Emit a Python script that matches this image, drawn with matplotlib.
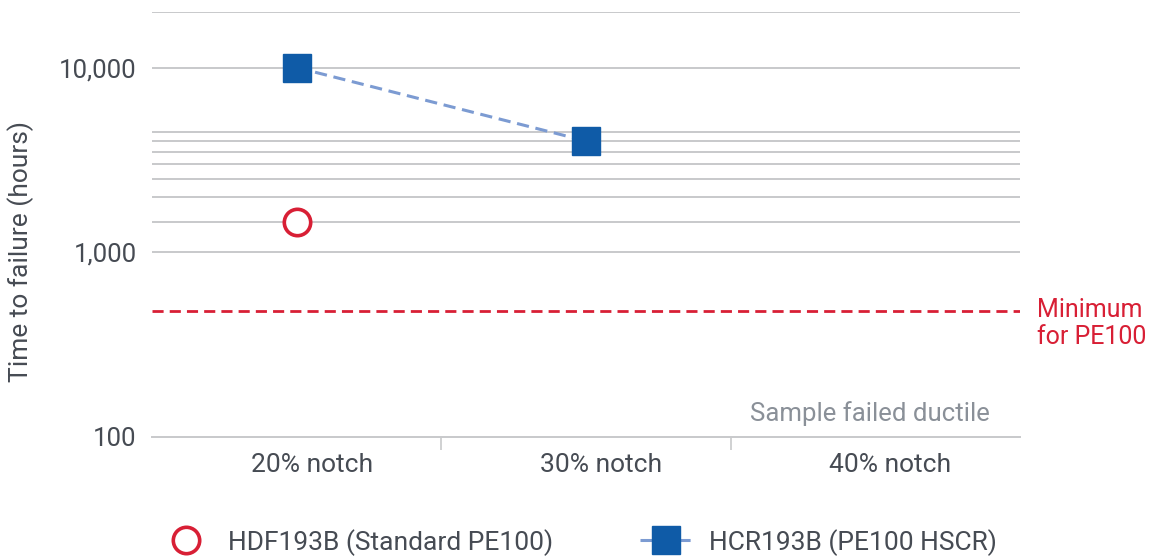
import matplotlib
matplotlib.use("Agg")
import matplotlib.pyplot as plt
from matplotlib.lines import Line2D
import matplotlib.transforms as mtransforms

plt.rcParams["font.family"] = ["Roboto", "DejaVu Sans"]

# Data
categories = ["20% notch", "30% notch", "40% notch"]
hdf_x = [0]
hdf_hours = [1450]
hcr_x = [0, 1]
hcr_hours = [10000, 4000]
pe100_minimum = 480

# axis setup
y_min, y_max = 100, 20000
y_labelled = [100, 1000, 10000]
y_grid = [1000, 1450, 2000, 2500, 3000, 3500, 4000, 4500, 10000, 20000]

TXT = "#464b53"
GRID = "#c8c9cb"
RED = "#d81f35"
BLUE = "#0f5ba7"
LBLUE = "#7c9bd2"
FS = 19

fig = plt.figure(figsize=(11.58, 5.6), dpi=100)
ax = fig.add_axes([0.1313, 0.2202, 0.7495, 0.7584])

ax.set_yscale("log")
ax.set_ylim(y_min, y_max)
ax.set_xlim(-0.5, 2.5)

for v in y_grid:
    ax.axhline(v, color=GRID, lw=1.4, zorder=0)

ax.axhline(pe100_minimum, color=RED, lw=2.0, ls=(0, (4, 2.2)), zorder=1)

ax.plot(hcr_x, hcr_hours, ls=(0, (4, 2.2)), color=LBLUE, lw=2.2, zorder=2)
ax.plot(hcr_x, hcr_hours, ls="none", marker="s", ms=19.5, color=BLUE, zorder=3)
ax.plot(hdf_x, hdf_hours, ls="none", marker="o", ms=19, mfc="white",
        mec=RED, mew=2.6, zorder=3)

ax.yaxis.set_minor_locator(matplotlib.ticker.NullLocator())
ax.set_yticks(y_labelled)
ax.set_yticklabels([f"{v:,}" for v in y_labelled])
ax.tick_params(axis="y", length=0, pad=11, labelsize=18.5, labelcolor=TXT)

ax.set_xticks(range(len(categories)))
ax.set_xticklabels(categories)
ax.set_xticks([0.5, 1.5], minor=True)
ax.tick_params(axis="x", which="major", length=0, pad=12, labelsize=FS,
               labelcolor=TXT)
ax.tick_params(axis="x", which="minor", length=9, width=1.2, color=GRID,
               direction="out")
shift = mtransforms.ScaledTranslation(15 / 100, 0, fig.dpi_scale_trans)
for lab in ax.get_xticklabels():
    lab.set_transform(lab.get_transform() + shift)

for s in ["top", "right", "left"]:
    ax.spines[s].set_visible(False)
ax.spines["bottom"].set_color(GRID)
ax.spines["bottom"].set_linewidth(1.4)

ax.set_ylabel("Time to failure (hours)", fontsize=FS, color=TXT)
ax.yaxis.set_label_coords(-0.136, 0.435)

ax.text(0.965, 0.055, "Sample failed ductile", transform=ax.transAxes,
        ha="right", va="center", fontsize=18.5, color="#8a9098")

trans = mtransforms.blended_transform_factory(ax.transAxes, ax.transData)
ax.annotate("Minimum\nfor PE100", xy=(1.0196, pe100_minimum), xycoords=trans,
            xytext=(0, -9), textcoords="offset points",
            ha="left", va="center", fontsize=18, color=RED, linespacing=1.2)

handles = [
    Line2D([], [], ls="none", marker="o", ms=19, mfc="white", mec=RED, mew=2.6),
    Line2D([], [], ls=(0, (4, 2.2)), color=LBLUE, lw=2.2, marker="s", ms=19.5,
           mfc=BLUE, mec=BLUE),
]
labels = ["HDF193B (Standard PE100)", "HCR193B (PE100 HSCR)"]
leg = fig.legend(handles, labels, loc="center", bbox_to_anchor=(0.499, 0.032),
                 ncol=2, frameon=False, fontsize=FS, handlelength=2.0,
                 columnspacing=3.3, handletextpad=0.6)
for t in leg.get_texts():
    t.set_color(TXT)

fig.savefig("out.png", dpi=100)
